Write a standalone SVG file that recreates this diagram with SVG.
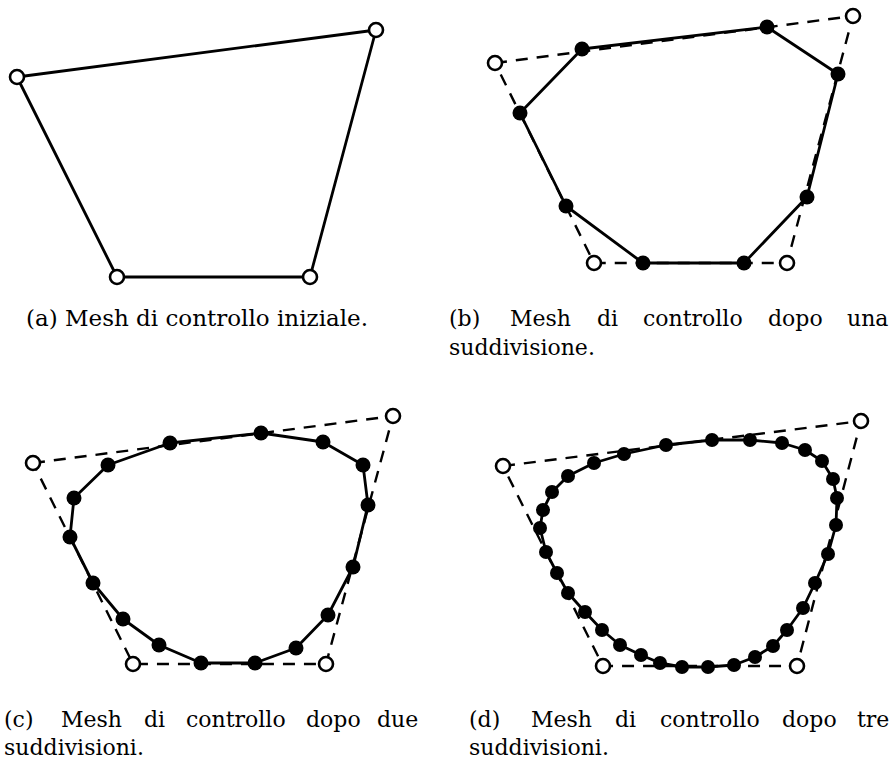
<svg xmlns="http://www.w3.org/2000/svg" width="896" height="765" viewBox="0 0 896 765">
<style>
.solid{fill:none;stroke:#000;stroke-width:2.8;stroke-linejoin:round}
.dash{fill:none;stroke:#000;stroke-width:2.4;stroke-dasharray:12 9}
.open{fill:#fff;stroke:#000;stroke-width:2.6}
.dot{fill:#000}
.cap{font-family:"DejaVu Serif","Liberation Serif",serif;font-size:22px;fill:#000}
</style>
<rect width="896" height="765" fill="#fff"/>

<!-- (a) -->
<g id="panel-a">
  <polygon class="solid" points="17,77 376,30 310,277 117,277"/>
  <g id="a-ctrl">
    <circle class="open" cx="17" cy="77" r="7"/>
    <circle class="open" cx="376" cy="30" r="7"/>
    <circle class="open" cx="310" cy="277" r="7"/>
    <circle class="open" cx="117" cy="277" r="7"/>
  </g>
</g>

<!-- (b) -->
<g id="panel-b">
  <polygon class="dash" points="495,63 853,16 787,263 594,263"/>
  <polygon class="solid" points="582,49 767,27 838,74 807,197 744,263 643,263 566,206 520,113"/>
  <g id="b-dots">
    <circle class="dot" cx="582" cy="49" r="7.5"/>
    <circle class="dot" cx="767" cy="27" r="7.5"/>
    <circle class="dot" cx="838" cy="74" r="7.5"/>
    <circle class="dot" cx="807" cy="197" r="7.5"/>
    <circle class="dot" cx="744" cy="263" r="7.5"/>
    <circle class="dot" cx="643" cy="263" r="7.5"/>
    <circle class="dot" cx="566" cy="206" r="7.5"/>
    <circle class="dot" cx="520" cy="113" r="7.5"/>
  </g>
  <g id="b-ctrl">
    <circle class="open" cx="495" cy="63" r="7"/>
    <circle class="open" cx="853" cy="16" r="7"/>
    <circle class="open" cx="787" cy="263" r="7"/>
    <circle class="open" cx="594" cy="263" r="7"/>
  </g>
</g>

<!-- (c) -->
<g id="panel-c">
  <polygon class="dash" points="33,463 393,416 326,664 133,664"/>
  <polygon class="solid" points="170,443 261,433 323,442 363,465 368,505 353,567 328,615 296,648 255,663 201,663 159,645 123,619 93,583 70,537 74,498 108,465"/>
  <g id="c-dots">
    <circle class="dot" cx="170" cy="443" r="7.5"/>
    <circle class="dot" cx="261" cy="433" r="7.5"/>
    <circle class="dot" cx="323" cy="442" r="7.5"/>
    <circle class="dot" cx="363" cy="465" r="7.5"/>
    <circle class="dot" cx="368" cy="505" r="7.5"/>
    <circle class="dot" cx="353" cy="567" r="7.5"/>
    <circle class="dot" cx="328" cy="615" r="7.5"/>
    <circle class="dot" cx="296" cy="648" r="7.5"/>
    <circle class="dot" cx="255" cy="663" r="7.5"/>
    <circle class="dot" cx="201" cy="663" r="7.5"/>
    <circle class="dot" cx="159" cy="645" r="7.5"/>
    <circle class="dot" cx="123" cy="619" r="7.5"/>
    <circle class="dot" cx="93" cy="583" r="7.5"/>
    <circle class="dot" cx="70" cy="537" r="7.5"/>
    <circle class="dot" cx="74" cy="498" r="7.5"/>
    <circle class="dot" cx="108" cy="465" r="7.5"/>
  </g>
  <g id="c-ctrl">
    <circle class="open" cx="33" cy="463" r="7"/>
    <circle class="open" cx="393" cy="416" r="7"/>
    <circle class="open" cx="326" cy="664" r="7"/>
    <circle class="open" cx="133" cy="664" r="7"/>
  </g>
</g>

<!-- (d) -->
<g id="panel-d">
  <polygon class="dash" points="503,466 861,421 797,666 603,666"/>
  <polygon class="solid" points="543,510 552,492 568,476 594,463 624,454 666,445 712,440 750,440 782,443 805,450 822,461 833,479 837,498 836,525 828,554 815,583 803,608 787,630 773,646 755,657 734,665 708,667 682,667 660,663 641,655 620,645 602,630 585,612 568,593 557,573 546,552 540,528"/>
  <g id="d-dots">
    <circle class="dot" cx="543" cy="510" r="7"/>
    <circle class="dot" cx="552" cy="492" r="7"/>
    <circle class="dot" cx="568" cy="476" r="7"/>
    <circle class="dot" cx="594" cy="463" r="7"/>
    <circle class="dot" cx="624" cy="454" r="7"/>
    <circle class="dot" cx="666" cy="445" r="7"/>
    <circle class="dot" cx="712" cy="440" r="7"/>
    <circle class="dot" cx="750" cy="440" r="7"/>
    <circle class="dot" cx="782" cy="443" r="7"/>
    <circle class="dot" cx="805" cy="450" r="7"/>
    <circle class="dot" cx="822" cy="461" r="7"/>
    <circle class="dot" cx="833" cy="479" r="7"/>
    <circle class="dot" cx="837" cy="498" r="7"/>
    <circle class="dot" cx="836" cy="525" r="7"/>
    <circle class="dot" cx="828" cy="554" r="7"/>
    <circle class="dot" cx="815" cy="583" r="7"/>
    <circle class="dot" cx="803" cy="608" r="7"/>
    <circle class="dot" cx="787" cy="630" r="7"/>
    <circle class="dot" cx="773" cy="646" r="7"/>
    <circle class="dot" cx="755" cy="657" r="7"/>
    <circle class="dot" cx="734" cy="665" r="7"/>
    <circle class="dot" cx="708" cy="667" r="7"/>
    <circle class="dot" cx="682" cy="667" r="7"/>
    <circle class="dot" cx="660" cy="663" r="7"/>
    <circle class="dot" cx="641" cy="655" r="7"/>
    <circle class="dot" cx="620" cy="645" r="7"/>
    <circle class="dot" cx="602" cy="630" r="7"/>
    <circle class="dot" cx="585" cy="612" r="7"/>
    <circle class="dot" cx="568" cy="593" r="7"/>
    <circle class="dot" cx="557" cy="573" r="7"/>
    <circle class="dot" cx="546" cy="552" r="7"/>
    <circle class="dot" cx="540" cy="528" r="7"/>
  </g>
  <g id="d-ctrl">
    <circle class="open" cx="503" cy="466" r="7"/>
    <circle class="open" cx="861" cy="421" r="7"/>
    <circle class="open" cx="797" cy="666" r="7"/>
    <circle class="open" cx="603" cy="666" r="7"/>
  </g>
</g>

<!-- captions -->
<g id="captions">
  <text class="cap" x="26" y="326" textLength="342" lengthAdjust="spacingAndGlyphs">(a) Mesh di controllo iniziale.</text>
  <text class="cap" y="326"><tspan x="449">(b)</tspan><tspan x="510">Mesh</tspan><tspan x="597">di</tspan><tspan x="643">controllo</tspan><tspan x="768">dopo</tspan><tspan x="847">una</tspan></text>
  <text class="cap" x="449" y="355">suddivisione.</text>
  <text class="cap" y="727"><tspan x="4">(c)</tspan><tspan x="61">Mesh</tspan><tspan x="144">di</tspan><tspan x="186">controllo</tspan><tspan x="306">dopo</tspan><tspan x="377">due</tspan></text>
  <text class="cap" x="4" y="755">suddivisioni.</text>
  <text class="cap" y="727"><tspan x="469">(d)</tspan><tspan x="531">Mesh</tspan><tspan x="615">di</tspan><tspan x="660">controllo</tspan><tspan x="782">dopo</tspan><tspan x="857">tre</tspan></text>
  <text class="cap" x="469" y="755">suddivisioni.</text>
</g>
</svg>
